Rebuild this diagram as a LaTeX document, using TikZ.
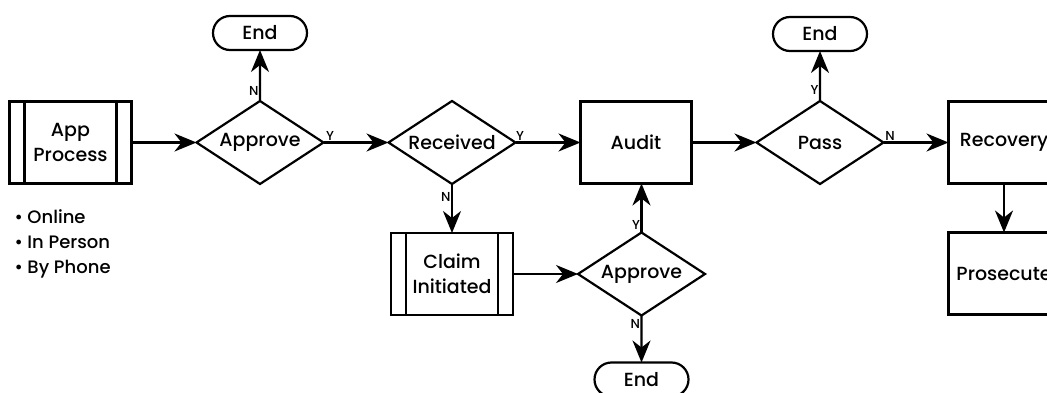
\documentclass[tikz,border=0pt]{standalone}
\usepackage{fontspec}
\setmainfont{Poppins}[UprightFont=* Medium]
\usetikzlibrary{positioning,shapes,arrows.meta}
\def\dx{65pt}
\def\dy{49pt}
\tikzstyle{decision}=[draw,diamond,aspect=1.55,minimum width=127pt,minimum height=83pt,inner sep=0pt]
\tikzstyle{block}=[draw,rectangle,minimum width=111pt,minimum height=82pt,inner sep=0pt]
\tikzstyle{subproc}=[draw,rectangle,minimum width=122pt,minimum height=82pt,inner sep=0pt,align=center]
\tikzstyle{terminal}=[draw,rounded rectangle,minimum width=94pt,minimum height=34pt,inner sep=0pt]
\tikzstyle{yn}=[font=\fontsize{13}{13}\selectfont,inner sep=1.5pt]
\newcommand{\newNode}[4]{\node[#3](#1)[#4]{#2};}
\newcommand{\newSubproc}[3]{\node[subproc](#1)[#3]{#2};
  \draw ([xshift=15pt]#1.north west) -- ([xshift=15pt]#1.south west)
        ([xshift=-15pt]#1.north east) -- ([xshift=-15pt]#1.south east);}
\newcommand{\newEdge}[4]{\path[->] (#1) edge node[#4] {#3} (#2);}

\begin{document}
\begin{tikzpicture}[x=1pt,y=-1pt,node distance=\dy and \dx,
  >={Stealth[length=22pt,width=18pt,inset=7pt]},
  line width=2.2pt,outer sep=0pt,font=\fontsize{19}{25}\selectfont
  ]
  \path[use as bounding box] (0,0) rectangle (1047,393);
  \clip (0,0) rectangle (1047,393);
  % top row
  \newSubproc{app}{App\\Process}{at={(70.5,142.5)}}
  \newNode{ok1}{Approve}{decision}{right=of app}
  \newNode{end1}{End}{terminal}{above=51pt of ok1}
  \newNode{recv}{Received}{decision}{right=of ok1}
  \newNode{audit}{Audit}{block}{right=of recv}
  \newNode{pass}{Pass}{decision}{right=of audit}
  \newNode{end2}{End}{terminal}{above=50pt of pass}
  \newNode{recov}{Recovery}{block}{right=of pass}
  \newNode{pros}{Prosecute}{block}{below=of recov}
  % lower row
  \newSubproc{claim}{Claim\\Initiated}{below=of recv}
  \newNode{ok2}{Approve}{decision}{right=of claim}
  \newNode{end3}{End}{terminal}{below=47pt of ok2}
  \node[inner sep=0pt,align=left,font=\fontsize{18}{25}\selectfont]
    (ways)[below=26pt of app.south west,anchor=north west,xshift=5pt]
    {\textbullet\ Online\\\textbullet\ In Person\\\textbullet\ By Phone};
  % connectors
  \newEdge{app}{ok1}{}{}
  \newEdge{ok1}{end1}{N}{yn,pos=0.2,left}
  \newEdge{ok1}{recv}{Y}{yn,pos=0.1,above}
  \newEdge{recv}{audit}{Y}{yn,pos=0.07,above}
  \newEdge{recv}{claim}{N}{yn,pos=0.27,left}
  \newEdge{claim}{ok2}{}{}
  \newEdge{ok2}{ok2.north |- audit.south}{Y}{yn,pos=0.15,left}
  \newEdge{ok2}{end3}{N}{yn,pos=0.17,left}
  \newEdge{audit}{pass}{}{}
  \newEdge{pass}{end2}{Y}{yn,pos=0.22,left}
  \newEdge{pass}{recov}{N}{yn,pos=0.1,above}
  \newEdge{recov}{pros}{}{}
\end{tikzpicture}
\end{document}
